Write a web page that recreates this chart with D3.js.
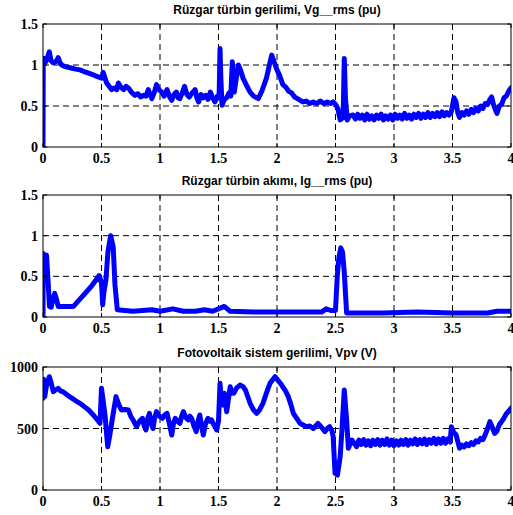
<!DOCTYPE html>
<html>
<head>
<meta charset="utf-8">
<script src="https://cdn.jsdelivr.net/npm/d3@7"></script>
<style>
  html, body { margin: 0; padding: 0; background: #fff; }
  svg { display: block; }
</style>
</head>
<body>
<svg id="chart" width="513" height="515"></svg>
<script>
/* ── DATA ─────────────────────────────────────────── */
const xTicks = [0, 0.5, 1, 1.5, 2, 2.5, 3, 3.5, 4];
const xTickLabels = ['0', '0.5', '1', '1.5', '2', '2.5', '3', '3.5', '4'];

// Vg rms (pu)
const vgTitle = 'Rüzgar türbin gerilimi, Vg__rms (pu)';
const vgTicks = [0, 0.5, 1, 1.5];
const vgTickLabels = ['0', '0.5', '1', '1.5'];
const vgTime = [
  0, 0.002, 0.01, 0.025, 0.04, 0.054, 0.07, 0.083, 0.10, 0.115,
  0.13, 0.145, 0.16, 0.19, 0.22, 0.25, 0.28, 0.316, 0.35, 0.39,
  0.43, 0.46, 0.50, 0.514, 0.53, 0.544, 0.565, 0.587, 0.61, 0.63,
  0.644, 0.665, 0.69, 0.71, 0.73, 0.755, 0.786, 0.81, 0.835, 0.857,
  0.88, 0.90, 0.915, 0.93, 0.95, 0.97, 0.99, 1.015, 1.035, 1.06,
  1.08, 1.10, 1.12, 1.14, 1.155, 1.17, 1.19, 1.21, 1.23, 1.25,
  1.275, 1.30, 1.315, 1.33, 1.35, 1.37, 1.39, 1.41, 1.43, 1.45,
  1.47, 1.49, 1.505, 1.513, 1.52, 1.53, 1.55, 1.57, 1.59, 1.605,
  1.618, 1.627, 1.635, 1.65, 1.67, 1.69, 1.71, 1.74, 1.77, 1.80,
  1.84, 1.87, 1.91, 1.935, 1.955, 1.975, 2.0, 2.02, 2.05, 2.075,
  2.10, 2.125, 2.15, 2.175, 2.197, 2.22, 2.25, 2.28, 2.31, 2.34,
  2.37, 2.40, 2.43, 2.46, 2.48, 2.50, 2.52, 2.54, 2.565, 2.575,
  2.585, 2.60, 2.62, 2.65, 2.67, 2.69, 2.71, 2.73, 2.75, 2.77,
  2.79, 2.81, 2.83, 2.85, 2.87, 2.89, 2.91, 2.93, 2.95, 2.97,
  2.99, 3.01, 3.03, 3.05, 3.07, 3.09, 3.11, 3.13, 3.15, 3.17,
  3.19, 3.21, 3.23, 3.25, 3.27, 3.29, 3.31, 3.33, 3.35, 3.37,
  3.39, 3.41, 3.43, 3.45, 3.47, 3.49, 3.513, 3.53, 3.545, 3.56,
  3.58, 3.60, 3.62, 3.64, 3.66, 3.68, 3.70, 3.72, 3.74, 3.76,
  3.78, 3.80, 3.82, 3.835, 3.85, 3.865, 3.88, 3.90, 3.92, 3.94,
  3.96, 3.98, 4.0];
const vgValues = [
  0, 1.05, 1.08, 1.04, 1.10, 1.16, 1.05, 1.03, 1.03, 1.05,
  1.09, 1.03, 1.0, 0.98, 0.97, 0.96, 0.95, 0.94, 0.92, 0.90,
  0.88, 0.86, 0.84, 0.91, 0.84, 0.78, 0.74, 0.70, 0.72, 0.70,
  0.78, 0.73, 0.70, 0.74, 0.72, 0.67, 0.63, 0.65, 0.61, 0.63,
  0.62, 0.70, 0.64, 0.59, 0.66, 0.76, 0.70, 0.67, 0.62, 0.70,
  0.62, 0.57, 0.64, 0.67, 0.60, 0.59, 0.66, 0.74, 0.64, 0.61,
  0.66, 0.70, 0.60, 0.55, 0.64, 0.60, 0.63, 0.58, 0.67, 0.60,
  0.55, 0.62, 0.60, 1.20, 0.85, 0.51, 0.58, 0.60, 0.66, 0.62,
  1.04, 0.80, 0.67, 0.82, 1.0, 0.93, 0.84, 0.75, 0.67, 0.62,
  0.59, 0.68, 0.84, 1.0, 1.12, 1.04, 0.94, 0.88, 0.76, 0.73,
  0.68, 0.66, 0.61, 0.59, 0.57, 0.55, 0.56, 0.53, 0.55, 0.53,
  0.56, 0.53, 0.55, 0.53, 0.55, 0.52, 0.47, 0.33, 0.36, 1.08,
  0.60, 0.33, 0.38, 0.39, 0.34, 0.40, 0.35, 0.39, 0.33, 0.40,
  0.34, 0.38, 0.33, 0.39, 0.35, 0.40, 0.33, 0.38, 0.34, 0.39,
  0.33, 0.40, 0.35, 0.39, 0.34, 0.41, 0.35, 0.39, 0.34, 0.40,
  0.36, 0.41, 0.35, 0.40, 0.36, 0.42, 0.36, 0.41, 0.37, 0.42,
  0.37, 0.43, 0.38, 0.42, 0.39, 0.43, 0.60, 0.55, 0.42, 0.36,
  0.42, 0.39, 0.44, 0.40, 0.46, 0.42, 0.47, 0.44, 0.50, 0.47,
  0.53, 0.52, 0.58, 0.61, 0.52, 0.46, 0.41, 0.50, 0.52, 0.60,
  0.62, 0.68, 0.72];

// Ig rms (pu)
const igTitle = 'Rüzgar türbin akımı, Ig__rms (pu)';
const igTicks = [0, 0.5, 1, 1.5];
const igTickLabels = ['0', '0.5', '1', '1.5'];
const igTime = [
  0, 0.002, 0.015, 0.03, 0.045, 0.055, 0.07, 0.085, 0.10, 0.115,
  0.13, 0.18, 0.26, 0.31, 0.36, 0.42, 0.48, 0.50, 0.51, 0.52,
  0.538, 0.555, 0.578, 0.60, 0.615, 0.635, 0.70, 0.77, 0.85, 0.93,
  1.0, 1.11, 1.2, 1.3, 1.38, 1.45, 1.55, 1.6, 1.8, 2.0,
  2.2, 2.38, 2.42, 2.46, 2.50, 2.515, 2.53, 2.545, 2.56, 2.575,
  2.595, 2.65, 2.9, 3.2, 3.5, 3.8, 3.88, 4.0];
const igValues = [
  0, 0.78, 0.72, 0.76, 0.40, 0.13, 0.12, 0.22, 0.29, 0.22,
  0.13, 0.13, 0.13, 0.21, 0.29, 0.39, 0.51, 0.42, 0.15, 0.30,
  0.46, 0.80, 1.0, 0.86, 0.40, 0.09, 0.08, 0.07, 0.08, 0.09,
  0.07, 0.10, 0.07, 0.07, 0.09, 0.07, 0.13, 0.07, 0.06, 0.06,
  0.06, 0.06, 0.10, 0.08, 0.08, 0.50, 0.74, 0.85, 0.80, 0.55,
  0.05, 0.05, 0.05, 0.06, 0.05, 0.05, 0.07, 0.07];

// Vpv (V)
const vpvTitle = 'Fotovoltaik sistem gerilimi, Vpv (V)';
const vpvTicks = [0, 500, 1000];
const vpvTickLabels = ['0', '500', '1000'];
const vpvTime = [
  0, 0.005, 0.015, 0.03, 0.054, 0.07, 0.088, 0.11, 0.13, 0.15,
  0.17, 0.21, 0.25, 0.28, 0.316, 0.35, 0.39, 0.43, 0.46, 0.487,
  0.50, 0.515, 0.53, 0.553, 0.57, 0.59, 0.624, 0.645, 0.67, 0.70,
  0.73, 0.75, 0.77, 0.80, 0.825, 0.85, 0.865, 0.88, 0.895, 0.91,
  0.925, 0.94, 0.955, 0.97, 0.995, 1.02, 1.04, 1.06, 1.08, 1.10,
  1.115, 1.13, 1.15, 1.17, 1.185, 1.20, 1.22, 1.24, 1.255, 1.27,
  1.29, 1.31, 1.325, 1.34, 1.355, 1.37, 1.39, 1.41, 1.425, 1.44,
  1.46, 1.485, 1.50, 1.513, 1.525, 1.535, 1.55, 1.57, 1.585, 1.60,
  1.615, 1.63, 1.655, 1.684, 1.71, 1.73, 1.75, 1.77, 1.80, 1.826,
  1.85, 1.88, 1.91, 1.94, 1.983, 2.01, 2.04, 2.07, 2.097, 2.12,
  2.14, 2.17, 2.197, 2.22, 2.25, 2.28, 2.31, 2.33, 2.35, 2.38,
  2.41, 2.43, 2.45, 2.47, 2.48, 2.496, 2.517, 2.54, 2.555, 2.575,
  2.595, 2.61, 2.64, 2.66, 2.68, 2.70, 2.72, 2.74, 2.76, 2.78,
  2.80, 2.82, 2.84, 2.86, 2.88, 2.90, 2.92, 2.94, 2.96, 2.98,
  3.00, 3.02, 3.04, 3.06, 3.08, 3.10, 3.12, 3.14, 3.16, 3.18,
  3.20, 3.22, 3.24, 3.26, 3.28, 3.30, 3.32, 3.34, 3.36, 3.38,
  3.40, 3.42, 3.44, 3.46, 3.48, 3.49, 3.51, 3.53, 3.56, 3.58,
  3.60, 3.62, 3.64, 3.66, 3.68, 3.70, 3.72, 3.74, 3.76, 3.78,
  3.80, 3.82, 3.84, 3.86, 3.88, 3.90, 3.93, 3.96, 3.98, 4.0];
const vpvValues = [
  745, 900, 760, 850, 921, 870, 800, 815, 827, 805,
  800, 770, 745, 725, 705, 680, 650, 610, 575, 542,
  827, 720, 610, 352, 440, 563, 759, 700, 650, 655,
  650, 600, 569, 515, 560, 583, 520, 488, 580, 623,
  540, 500, 590, 637, 600, 583, 610, 623, 540, 447,
  540, 583, 560, 542, 600, 637, 590, 570, 600, 583,
  520, 475, 560, 610, 520, 447, 540, 583, 560, 570,
  530, 488, 560, 867, 720, 691, 786, 637, 740, 840,
  786, 786, 830, 853, 840, 813, 760, 705, 650, 623,
  650, 705, 790, 867, 921, 890, 853, 810, 759, 690,
  623, 580, 542, 530, 515, 520, 500, 520, 542, 510,
  475, 500, 515, 480, 434, 136, 122, 271, 488, 813,
  570, 339, 406, 380, 352, 405, 370, 410, 365, 400,
  360, 405, 370, 410, 365, 405, 370, 415, 365, 405,
  360, 400, 365, 405, 370, 410, 365, 405, 375, 415,
  370, 410, 375, 415, 370, 410, 380, 420, 375, 415,
  380, 420, 380, 415, 390, 515, 470, 450, 340, 365,
  350, 375, 360, 385, 370, 400, 390, 420, 410, 450,
  500, 556, 510, 460, 480, 530, 570, 620, 640, 665];

/* ── LAYOUT ───────────────────────────────────────── */
const svg = d3.select('#chart');
const left = 43, right = 511;
const tickFont  = '"Liberation Serif", "Times New Roman", serif';
const titleFont = '"Liberation Sans", Arial, sans-serif';
const panels = [
  { top: 24,  bottom: 147, title: vgTitle,  t: vgTime,  v: vgValues,  yMax: 1.5,  yTicks: vgTicks,  yLabels: vgTickLabels },
  { top: 195, bottom: 317, title: igTitle,  t: igTime,  v: igValues,  yMax: 1.5,  yTicks: igTicks,  yLabels: igTickLabels },
  { top: 367, bottom: 490, title: vpvTitle, t: vpvTime, v: vpvValues, yMax: 1000, yTicks: vpvTicks, yLabels: vpvTickLabels }
];

panels.forEach((p, i) => drawPanel(p, i));

function drawPanel(p, i) {
  const x = d3.scaleLinear().domain([0, 4]).range([left, right]);
  const y = d3.scaleLinear().domain([0, p.yMax]).range([p.bottom, p.top]);
  const g = svg.append('g');

  // dashed grid
  g.selectAll('.vgrid').data(xTicks.slice(1, -1)).enter().append('line')
    .attr('x1', d => x(d)).attr('x2', d => x(d))
    .attr('y1', p.top).attr('y2', p.bottom)
    .attr('stroke', '#000').attr('stroke-width', 1).attr('stroke-dasharray', '6,4');
  g.selectAll('.hgrid').data(p.yTicks.slice(1, -1)).enter().append('line')
    .attr('x1', left).attr('x2', right)
    .attr('y1', d => y(d)).attr('y2', d => y(d))
    .attr('stroke', '#000').attr('stroke-width', 1).attr('stroke-dasharray', '6,4');

  // series
  const clipId = 'clip' + i;
  svg.append('clipPath').attr('id', clipId).append('rect')
    .attr('x', left).attr('y', p.top - 2).attr('width', right - left).attr('height', p.bottom - p.top + 2);
  const line = d3.line().x(d => x(d[0])).y(d => y(d[1]));
  g.append('path').datum(d3.zip(p.t, p.v))
    .attr('clip-path', 'url(#' + clipId + ')')
    .attr('d', line).attr('fill', 'none')
    .attr('stroke', '#0000ff').attr('stroke-width', 5)
    .attr('stroke-linejoin', 'round').attr('stroke-linecap', 'round');

  // small inward ticks, all four sides
  const tl = 4;
  xTicks.forEach(d => {
    g.append('line').attr('x1', x(d)).attr('x2', x(d)).attr('y1', p.bottom).attr('y2', p.bottom - tl).attr('stroke', '#000');
    g.append('line').attr('x1', x(d)).attr('x2', x(d)).attr('y1', p.top).attr('y2', p.top + tl).attr('stroke', '#000');
  });
  p.yTicks.forEach(d => {
    g.append('line').attr('x1', left).attr('x2', left + tl).attr('y1', y(d)).attr('y2', y(d)).attr('stroke', '#000');
    g.append('line').attr('x1', right).attr('x2', right - tl).attr('y1', y(d)).attr('y2', y(d)).attr('stroke', '#000');
  });

  // frame
  g.append('rect').attr('x', left).attr('y', p.top)
    .attr('width', right - left).attr('height', p.bottom - p.top)
    .attr('fill', 'none').attr('stroke', '#000').attr('stroke-width', 1);

  // tick labels
  g.selectAll('.xl').data(xTicks).enter().append('text')
    .attr('font-family', tickFont).attr('font-weight', 'bold').attr('font-size', 14)
    .attr('x', d => x(d)).attr('y', p.bottom + 16)
    .attr('text-anchor', 'middle')
    .text((d, k) => xTickLabels[k]);
  g.selectAll('.yl').data(p.yTicks).enter().append('text')
    .attr('font-family', tickFont).attr('font-weight', 'bold').attr('font-size', 14)
    .attr('x', left - 5).attr('y', d => y(d) + 5)
    .attr('text-anchor', 'end')
    .text((d, k) => p.yLabels[k]);

  // title
  g.append('text')
    .attr('font-family', titleFont).attr('font-weight', 'bold').attr('font-size', 12)
    .attr('x', (left + right) / 2).attr('y', p.top - 10.5)
    .attr('text-anchor', 'middle').text(p.title);
}
</script>
</body>
</html>
